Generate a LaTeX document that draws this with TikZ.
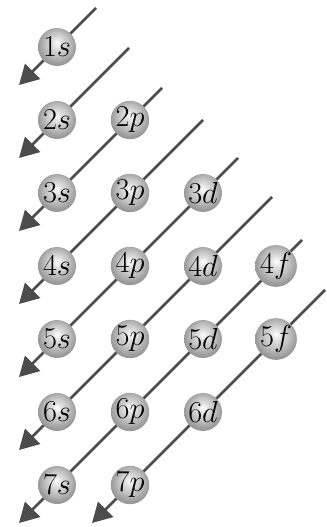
\documentclass[tikz,border=0pt]{standalone}
\usetikzlibrary{arrows.meta}
\pgfdeclareradialshading{sphere}{\pgfpoint{0bp}{6bp}}{color(0bp)=(white);
  color(7bp)=(gray!25); color(16bp)=(gray!50); color(25bp)=(gray!80); color(50bp)=(gray!80)}
\tikzset{
  orbital/.style={circle,shading=sphere,minimum size=0.76cm,inner sep=0pt},
  diag/.style={draw=black!70,line width=1.6pt,-{Triangle[length=11pt,width=12pt]}}
}
\begin{document}
\begin{tikzpicture}[x=0.02cm,y=-0.02cm,line join=round,font=\fontsize{16}{18}\selectfont]
	\useasboundingbox (0,0) rectangle (326,527);
	% ends of the diagonals (top, arrow tip)
	\foreach \m/\ty/\bx/\by in {1/8/19/85,2/48/19/158,3/88/19/231,4/120/19/304,
		5/158/19/377,6/197/19/450,7/240/19/523,8/290/92/523}
	\path (31+73*\m-\ty,\ty) coordinate (t\m) (\bx,\by) coordinate (b\m);
	\foreach \m in {1,...,8}
	\draw[diag] (t\m)--(b\m);
	% orbitals: n/l/column
	\foreach \n/\l/\c in {1/s/0,2/s/0,2/p/1,3/s/0,3/p/1,3/d/2,4/s/0,4/p/1,4/d/2,4/f/3,
		5/s/0,5/p/1,5/d/2,5/f/3,6/s/0,6/p/1,6/d/2,7/s/0,7/p/1}
	\node[orbital] (\n\l) at (57+73*\c,47+73*\n-73) {$\n\l$};
\end{tikzpicture}
\end{document}
